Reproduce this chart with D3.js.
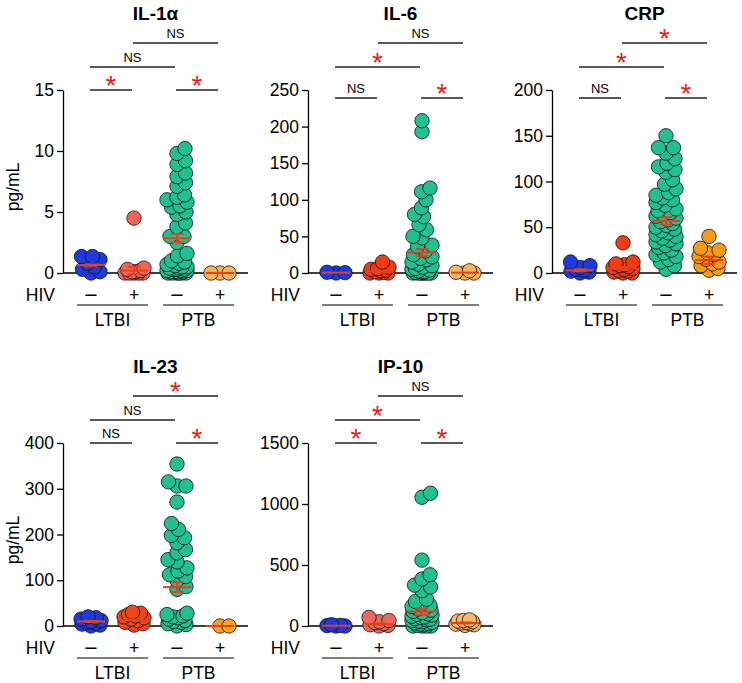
<!DOCTYPE html>
<html><head><meta charset="utf-8">
<script src="https://cdn.jsdelivr.net/npm/d3@7"></script>
<style>
body{margin:0;background:#fff}
svg{display:block}
text{font-family:"Liberation Sans",Arial,Helvetica,sans-serif;fill:#000}
</style>
</head><body>
<svg id="chart" width="742" height="683"></svg>
<script>
// ---------- categories / labels ----------
const groups = ["LTBI HIV-", "LTBI HIV+", "PTB HIV-", "PTB HIV+"];
const hivSigns = ["\u2212", "+", "\u2212", "+"];
const cohorts = ["LTBI", "PTB"];
const titles = ["IL-1\u03b1", "IL-6", "CRP", "IL-23", "IP-10"];
const comparisons = [[0, 1], [2, 3], [0, 2], [1, 3]];

// ---------- tick labels ----------
const ticksIL1a = [0, 5, 10, 15];
const ticksIL6 = [0, 50, 100, 150, 200, 250];
const ticksCRP = [0, 50, 100, 150, 200];
const ticksIL23 = [0, 100, 200, 300, 400];
const ticksIP10 = [0, 500, 1000, 1500];

// ---------- IL-1a (pg/mL) ----------
const il1a_ltbiNeg = [1.35, 1.35, 1.1, 0.8, 0.5, 0.3, 0.1, 0];
const il1a_ltbiPos = [4.5, 0.4, 0.3, 0.2, 0.1, 0.1, 0, 0, 0, 0, 0];
const il1a_ptbNeg = [10.2, 9.8, 9.2, 8.9, 8.2, 7.9, 7.4, 7.1, 6.4, 6.2, 6.0, 5.8, 5.5, 5.4, 5.0, 4.8, 4.1, 3.8, 3.0, 3.0, 2.5, 1.6, 1.4, 1.0, 0.9, 0.8, 0.7, 0.6, 0.5, 0.5, 0.4, 0.4, 0.3, 0.3, 0.3, 0.2, 0.2, 0.2, 0.1, 0.1, 0.1, 0.1, 0, 0, 0, 0, 0, 0];
const il1a_ptbPos = [0, 0, 0];
const il1a_mean = [0.65, 0.2, 2.85, 0];
const il1a_sem = [0.05, 0.3, 0.35, 0];
const il1a_sig = ["*", "*", "NS", "NS"];

// ---------- IL-6 ----------
const il6_ltbiNeg = [1, 0.5, 0];
const il6_ltbiPos = [15, 8, 6, 5, 4, 3, 2, 1, 0, 0, 0];
const il6_ptbNeg = [208, 193, 116, 111, 100, 89, 80, 77, 66, 59, 50, 48, 38, 36, 30, 25, 22, 20, 18, 15, 12, 10, 8, 6, 5, 4, 3, 2, 2, 1, 1, 0, 0, 0, 0, 0, 0, 0, 0];
const il6_ptbPos = [3, 1, 0, 0];
const il6_mean = [0.5, 2, 28, 0.5];
const il6_sem = [0, 1, 5, 0];
const il6_sig = ["NS", "*", "*", "NS"];

// ---------- CRP ----------
const crp_ltbiNeg = [12, 8, 6, 4, 3, 2, 1, 0];
const crp_ltbiPos = [33, 12, 10, 9, 8, 7, 6, 5, 4, 3, 2, 1, 0, 0];
const crp_ptbNeg = [150, 137, 137, 131, 125, 120, 116, 113, 110, 102, 97, 92, 88, 85, 82, 80, 77, 74, 70, 68, 66, 64, 62, 60, 58, 56, 54, 52, 50, 48, 46, 44, 42, 40, 38, 36, 34, 32, 30, 28, 25, 22, 20, 18, 15, 12, 8, 4];
const crp_ptbPos = [40, 27, 25, 22, 20, 18, 15, 12, 10, 8, 5, 3];
const crp_mean = [3, 5, 57, 14];
const crp_sem = [1, 1.5, 4, 4];
const crp_sig = ["NS", "*", "*", "*"];

// ---------- IL-23 ----------
const il23_ltbiNeg = [20, 18, 15, 12, 10, 8, 6, 4, 2, 0];
const il23_ltbiPos = [30, 28, 25, 22, 20, 18, 15, 12, 8, 5, 2];
const il23_ptbNeg = [354, 315, 306, 306, 271, 224, 211, 198, 193, 182, 167, 160, 145, 140, 127, 120, 112, 108, 100, 86, 80, 28, 25, 22, 20, 18, 15, 12, 10, 8, 5, 3, 0];
const il23_ptbPos = [0, 0];
const il23_mean = [10, 13, 85, 0];
const il23_sem = [1, 1, 11, 0];
const il23_sig = ["NS", "*", "NS", "*"];

// ---------- IP-10 ----------
const ip10_ltbiNeg = [10, 5, 3, 0, 0];
const ip10_ltbiPos = [70, 45, 35, 27, 20, 10, 5, 0];
const ip10_ptbNeg = [1088, 1055, 540, 420, 385, 335, 320, 290, 220, 200, 180, 170, 160, 150, 140, 130, 120, 110, 100, 95, 90, 80, 75, 70, 60, 55, 50, 45, 40, 35, 30, 25, 20, 15, 10, 5, 0, 0, 0, 0];
const ip10_ptbPos = [50, 45, 40, 35, 30, 25, 20, 15, 10, 5];
const ip10_mean = [2, 15, 118, 25];
const ip10_sem = [0, 5, 25, 4];
const ip10_sig = ["*", "*", "*", "NS"];

// ---------- layout / style ----------
const colX = [63, 308, 552];
const rowY0 = [273, 626];
const plotH = 183, plotW = 185;
const blue = "#1e3ade", green = "#22c08e";

const panels = [
  {title: titles[0], data: [il1a_ltbiNeg, il1a_ltbiPos, il1a_ptbNeg, il1a_ptbPos], mean: il1a_mean, sem: il1a_sem, ticks: ticksIL1a, sig: il1a_sig, col: 0, row: 0, colors: [blue, "#f26455", green, "#f9b458"], shift: 0, ylabel: true},
  {title: titles[1], data: [il6_ltbiNeg, il6_ltbiPos, il6_ptbNeg, il6_ptbPos], mean: il6_mean, sem: il6_sem, ticks: ticksIL6, sig: il6_sig, col: 1, row: 0, colors: [blue, "#f23a12", green, "#f9b35e"], shift: 8, ylabel: false},
  {title: titles[2], data: [crp_ltbiNeg, crp_ltbiPos, crp_ptbNeg, crp_ptbPos], mean: crp_mean, sem: crp_sem, ticks: ticksCRP, sig: crp_sig, col: 2, row: 0, colors: [blue, "#f43c10", green, "#f79a14"], shift: 8, ylabel: false},
  {title: titles[3], data: [il23_ltbiNeg, il23_ltbiPos, il23_ptbNeg, il23_ptbPos], mean: il23_mean, sem: il23_sem, ticks: ticksIL23, sig: il23_sig, col: 0, row: 1, colors: [blue, "#f24515", green, "#f7a11c"], shift: 0, ylabel: true},
  {title: titles[4], data: [ip10_ltbiNeg, ip10_ltbiPos, ip10_ptbNeg, ip10_ptbPos], mean: ip10_mean, sem: ip10_sem, ticks: ticksIP10, sig: ip10_sig, col: 1, row: 1, colors: [blue, "#e96a5a", green, "#f9b866"], shift: 0, ylabel: false}
];

const svg = d3.select("#chart");
const meanColor = "#e8401c";
const R = 7.2, REFF = 4.5, MAXOFF = 10;

function dodge(vals, y) {
  const pts = vals.map(v => ({v, cy: y(v)})).sort((a, b) => b.cy - a.cy);
  const cands = [0];
  for (let o = 0.5; o <= MAXOFF; o += 0.5) cands.push(o, -o);
  const placed = [];
  for (const p of pts) {
    let best = 0, bestScore = -Infinity;
    for (const o of cands) {
      let minD = Infinity;
      for (const q of placed) {
        const d = Math.hypot(o - q.dx, p.cy - q.cy);
        if (d < minD) minD = d;
      }
      if (minD >= 2 * REFF) { best = o; break; }
      if (minD > bestScore + 1e-9) { bestScore = minD; best = o; }
    }
    p.dx = best;
    placed.push(p);
  }
  return placed;
}

panels.forEach(p => {
  const ax = colX[p.col], y0 = rowY0[p.row], yTop = y0 - plotH;
  const y = d3.scaleLinear().domain([0, p.ticks[p.ticks.length - 1]]).range([y0, yTop]);
  const x = d3.scalePoint().domain(groups).range([ax + 28, ax + 157]);
  const g = svg.append("g");

  // title
  g.append("text").attr("x", ax + plotW / 2).attr("y", yTop - 70)
    .attr("text-anchor", "middle").style("font-size", "19px").style("font-weight", "bold").text(p.title);

  // y axis
  const axis = g.append("g").attr("transform", `translate(${ax},0)`)
    .call(d3.axisLeft(y).tickValues(p.ticks).tickSize(6).tickSizeOuter(0).tickPadding(3).tickFormat(d3.format("d")));
  axis.selectAll("text").style("font-size", "17.5px").attr("fill", "#000");
  axis.selectAll("line,path").attr("stroke", "#000").attr("stroke-width", 1.3);

  // baseline
  g.append("line").attr("x1", ax).attr("x2", ax + plotW).attr("y1", y0).attr("y2", y0)
    .attr("stroke", "#000").attr("stroke-width", 1.3);

  if (p.ylabel) {
    g.append("text").attr("transform", `translate(19,${y0 - 86}) rotate(-90)`)
      .attr("text-anchor", "middle").style("font-size", "17.5px").text("pg/mL");
  }

  // dots
  p.data.forEach((vals, i) => {
    const pts = dodge(vals, y);
    g.append("g").selectAll("circle").data(pts).join("circle")
      .attr("cx", d => x(groups[i]) + d.dx).attr("cy", d => d.cy).attr("r", R)
      .attr("fill", p.colors[i]).attr("stroke", "#111").attr("stroke-width", 0.8);
  });

  // mean +- sem
  groups.forEach((gname, i) => {
    const cx = x(gname), m = p.mean[i], s = p.sem[i];
    const mg = g.append("g").attr("stroke", meanColor).attr("stroke-width", 2);
    mg.append("line").attr("x1", cx - 14).attr("x2", cx + 14).attr("y1", y(m)).attr("y2", y(m));
    if (s > 0) {
      mg.append("line").attr("x1", cx).attr("x2", cx).attr("y1", y(m - s)).attr("y2", y(m + s));
      [m - s, m + s].forEach(v => mg.append("line").attr("x1", cx - 6.5).attr("x2", cx + 6.5).attr("y1", y(v)).attr("y2", y(v)));
    }
  });

  // HIV row
  g.append("text").attr("x", ax - 8).attr("y", y0 + 28).attr("text-anchor", "end").style("font-size", "17.5px").text("HIV");
  groups.forEach((gname, i) => {
    const isMinus = hivSigns[i] === "\u2212";
    g.append("text").attr("x", x(gname)).attr("y", y0 + (isMinus ? 30 : 28)).attr("text-anchor", "middle")
      .style("font-size", isMinus ? "23px" : "17.5px").text(hivSigns[i]);
  });
  cohorts.forEach((c, k) => {
    const xa = x(groups[2 * k]) - 14, xb = x(groups[2 * k + 1]) + 14;
    g.append("line").attr("x1", xa).attr("x2", xb).attr("y1", y0 + 32).attr("y2", y0 + 32).attr("stroke", "#000").attr("stroke-width", 1.2);
    g.append("text").attr("x", (xa + xb) / 2).attr("y", y0 + 53).attr("text-anchor", "middle").style("font-size", "17.5px").text(c);
  });

  // significance brackets
  const levelY = [yTop + p.shift, yTop - 23, yTop - 47];
  const levels = [0, 0, 1, 2];
  comparisons.forEach((pair, k) => {
    const xa = x(groups[pair[0]]) - 1, xb = x(groups[pair[1]]) - 2;
    const ly = levelY[levels[k]];
    g.append("line").attr("x1", xa).attr("x2", xb).attr("y1", ly).attr("y2", ly).attr("stroke", "#222").attr("stroke-width", 1.3);
    const lab = p.sig[k];
    if (lab === "*") {
      g.append("text").attr("x", (xa + xb) / 2).attr("y", ly + 5).attr("text-anchor", "middle")
        .style("font-size", "28px").style("fill", "#f01818").text("*");
    } else {
      g.append("text").attr("x", (xa + xb) / 2).attr("y", ly - 5).attr("text-anchor", "middle")
        .style("font-size", "13px").text(lab);
    }
  });
});
</script>
</body></html>
